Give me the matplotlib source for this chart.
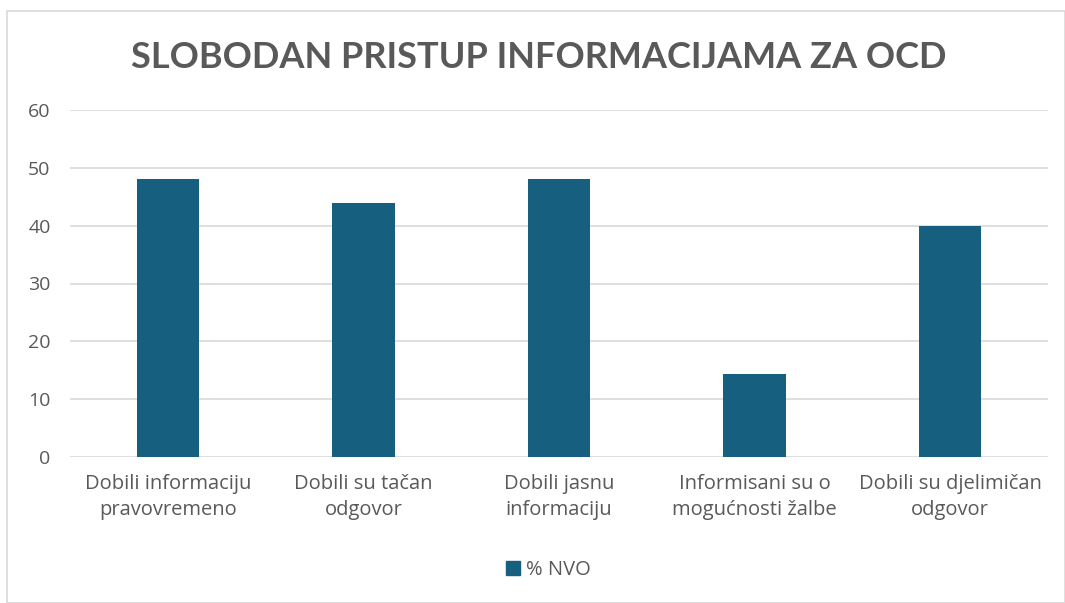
import matplotlib
matplotlib.use("Agg")
import matplotlib.pyplot as plt
import matplotlib.patches as mpatches

categories = [
    "Dobili informaciju\npravovremeno",
    "Dobili su tačan\nodgovor",
    "Dobili jasnu\ninformaciju",
    "Informisani su o\nmogućnosti žalbe",
    "Dobili su djelimičan\nodgovor",
]
values = [48, 44, 48, 14.3, 40]
series_name = "% NVO"
title = "SLOBODAN PRISTUP INFORMACIJAMA ZA OCD"

BAR = "#175F7F"
TXT = "#595959"
GRID = "#D9D9D9"

plt.rcParams["font.family"] = ["Open Sans", "DejaVu Sans"]

fig = plt.figure(figsize=(10.65, 6.03), dpi=100)
# light chart border
fig.patches.append(mpatches.Rectangle((7 / 1065, 0), 1 - 7 / 1065, 1 - 11 / 603,
                                      transform=fig.transFigure, fill=False,
                                      edgecolor=GRID, linewidth=1.2))

ax = fig.add_axes([70 / 1065, 1 - 457 / 603, (1048 - 70) / 1065, (457 - 110) / 603])
x = range(len(categories))
ax.bar(x, values, width=0.32, color=BAR, label=series_name, zorder=3)
ax.set_xlim(-0.5, len(categories) - 0.5)
ax.set_ylim(0, 60)
ax.set_yticks(range(0, 61, 10))
ax.yaxis.grid(True, color=GRID, linewidth=1.2, zorder=0)
ax.set_xticks(list(x))
ax.set_xticklabels(categories, fontsize=14.5, color=TXT, linespacing=1.45)
ax.tick_params(axis="y", labelsize=14, labelcolor=TXT, length=0, pad=14)
ax.tick_params(axis="x", length=0, pad=12)
for s in ax.spines.values():
    s.set_visible(False)

fig.text(0.506, 1 - 57 / 603, title, ha="center", va="center",
         fontsize=26, fontweight="bold", color=TXT, family=["Lato", "DejaVu Sans"])

fig.legend(handles=[mpatches.Patch(color=BAR, label=series_name)], loc="center",
           bbox_to_anchor=(548 / 1065, 1 - 570 / 603), frameon=False,
           fontsize=14.5, labelcolor=TXT, handlelength=0.7, handleheight=0.7,
           handletextpad=0.3)

fig.savefig("out.png", dpi=100)
